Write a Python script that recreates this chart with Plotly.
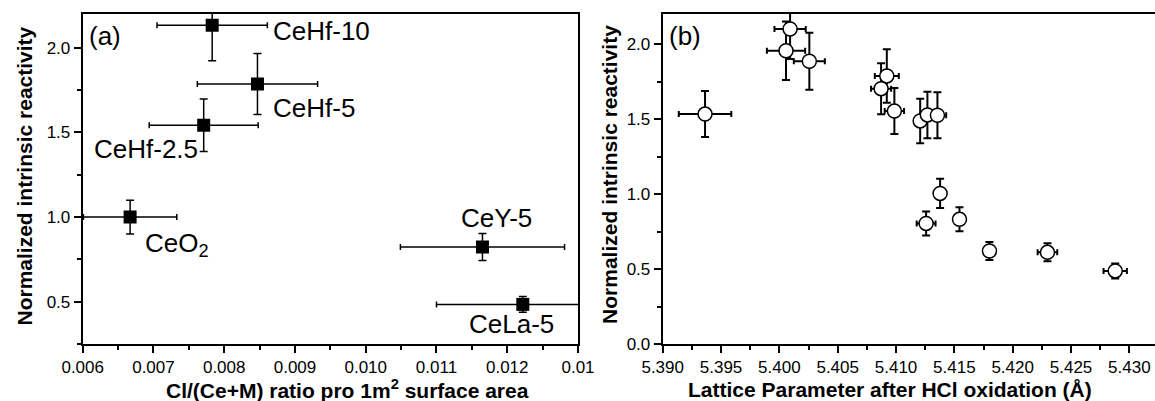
import plotly.graph_objects as go

# ---- Panel (a) data ----
a_names = ["CeHf-10", "CeHf-5", "CeHf-2.5", "CeO<sub>2</sub>", "CeY-5", "CeLa-5"]
a_x = [0.00783, 0.00847, 0.00771, 0.00667, 0.01165, 0.01222]
a_y = [2.134, 1.786, 1.543, 1.000, 0.823, 0.484]
a_xerr = [0.00078, 0.00085, 0.00077, 0.00066, 0.00116, 0.00122]
a_yerr = [0.21, 0.18, 0.155, 0.10, 0.08, 0.047]
a_label_x = [0.008657, 0.008657, 0.006136, 0.006848, 0.011322, 0.011427]
a_label_y = [2.099, 1.647, 1.402, 0.840, 0.997, 0.368]
a_tickvals = [0.006, 0.007, 0.008, 0.009, 0.010, 0.011, 0.012, 0.013]
a_ticktext = ["0.006", "0.007", "0.008", "0.009", "0.010", "0.011", "0.012", "0.01"]

# ---- Panel (b) data ----
b_x = [5.39363, 5.40092, 5.40057, 5.40257, 5.40921, 5.40872, 5.40986, 5.41207,
       5.41269, 5.41355, 5.41378, 5.41258, 5.41544, 5.41801, 5.42298, 5.42879]
b_y = [1.533, 2.100, 1.955, 1.885, 1.787, 1.702, 1.553, 1.487,
       1.527, 1.525, 1.004, 0.804, 0.831, 0.620, 0.611, 0.487]
b_xerr = [0.00225, 0.00134, 0.00164, 0.00133, 0.00103, 0.00086, 0.00083, 0.0005,
          0.0006, 0.00075, 0.0003, 0.00081, 0.0004, 0.0003, 0.00084, 0.0010]
b_yerr = [0.153, 0.20, 0.195, 0.19, 0.178, 0.17, 0.153, 0.148,
          0.155, 0.153, 0.098, 0.08, 0.08, 0.06, 0.06, 0.05]

FONT = "Liberation Sans, Arial, Helvetica, sans-serif"
W, H = 1155, 401

fig = go.Figure()

fig.add_trace(go.Scatter(
    x=a_x, y=a_y, mode="markers",
    marker=dict(symbol="square", size=13, color="black"),
    error_x=dict(type="data", array=a_xerr, color="black", thickness=1.5, width=3),
    error_y=dict(type="data", array=a_yerr, color="black", thickness=1.5, width=4),
    xaxis="x", yaxis="y", showlegend=False,
))

fig.add_trace(go.Scatter(
    x=b_x, y=b_y, mode="markers",
    marker=dict(symbol="circle", size=14, color="white", line=dict(color="black", width=1.5)),
    error_x=dict(type="data", array=b_xerr, color="black", thickness=2, width=3),
    error_y=dict(type="data", array=b_yerr, color="black", thickness=2, width=4),
    xaxis="x2", yaxis="y2", showlegend=False,
))

ydom = [1 - 344 / H, 1 - 14 / H]
axis_common = dict(
    showgrid=False, zeroline=False, showline=True, linecolor="black", linewidth=2,
    ticks="outside", ticklen=7, tickwidth=1.5, tickcolor="black", automargin=False,
    tickfont=dict(family=FONT, size=17, color="black"),
)

fig.update_layout(
    width=W, height=H,
    margin=dict(l=0, r=0, t=0, b=0, pad=0, autoexpand=False),
    paper_bgcolor="white", plot_bgcolor="white",
    font=dict(family=FONT, color="black"),
    showlegend=False,
    xaxis=dict(domain=[82.7 / W, 578 / W], range=[0.006, 0.013], anchor="y",
               tickvals=a_tickvals, ticktext=a_ticktext, mirror=True,
               minor=dict(ticks="outside", ticklen=4, tickwidth=1.5, dtick=0.0005, tick0=0.006, tickcolor="black"),
               **axis_common),
    yaxis=dict(domain=ydom, range=[0.25, 2.2], anchor="x", dtick=0.5, tick0=0, tickformat=".1f",
               mirror=True,
               minor=dict(ticks="outside", ticklen=4, tickwidth=1.5, dtick=0.25, tick0=0, tickcolor="black"),
               **axis_common),
    xaxis2=dict(domain=[662.7 / W, 1.0], range=[5.390, 5.4322], anchor="y2",
                dtick=0.005, tick0=5.390, tickformat=".3f", mirror=True,
                minor=dict(ticks="outside", ticklen=4, tickwidth=1.5, dtick=0.0025, tick0=5.390, tickcolor="black"),
                **axis_common),
    yaxis2=dict(domain=ydom, range=[0, 2.2], anchor="x2", dtick=0.5, tick0=0, tickformat=".1f",
                minor=dict(ticks="outside", ticklen=4, tickwidth=1.5, dtick=0.25, tick0=0, tickcolor="black"),
                **axis_common),
)

annotations = []
for name, lx, ly in zip(a_names, a_label_x, a_label_y):
    annotations.append(dict(x=lx, y=ly, xref="x", yref="y", text=name, showarrow=False,
                            xanchor="left", yanchor="middle",
                            font=dict(family=FONT, size=26, color="black")))

annotations.append(dict(x=87 / W, y=1 - 36 / H, xref="paper", yref="paper", text="(a)", showarrow=False,
                        xanchor="left", yanchor="middle", font=dict(family=FONT, size=26, color="black")))
annotations.append(dict(x=666.5 / W, y=1 - 36 / H, xref="paper", yref="paper", text="(b)", showarrow=False,
                        xanchor="left", yanchor="middle", font=dict(family=FONT, size=26, color="black")))

title_font = dict(family=FONT, size=21, color="black")
annotations.append(dict(x=347.5 / W, y=1 - 389 / H, xref="paper", yref="paper",
                        text="<b>Cl/(Ce+M) ratio pro 1m<sup>2</sup> surface area</b>", showarrow=False,
                        xanchor="center", yanchor="middle", font=title_font))
annotations.append(dict(x=890 / W, y=1 - 389 / H, xref="paper", yref="paper",
                        text="<b>Lattice Parameter after HCl oxidation (Å)</b>", showarrow=False,
                        xanchor="center", yanchor="middle", font=title_font))
annotations.append(dict(x=24 / W, y=1 - 176.5 / H, xref="paper", yref="paper",
                        text="<b>Normalized intrinsic reactivity</b>", showarrow=False, textangle=-90,
                        xanchor="center", yanchor="middle", font=title_font))
annotations.append(dict(x=608.7 / W, y=1 - 174.2 / H, xref="paper", yref="paper",
                        text="<b>Normalized intrinsic reactivity</b>", showarrow=False, textangle=-90,
                        xanchor="center", yanchor="middle", font=title_font))

fig.update_layout(annotations=annotations)

fig.write_html("out.html")
